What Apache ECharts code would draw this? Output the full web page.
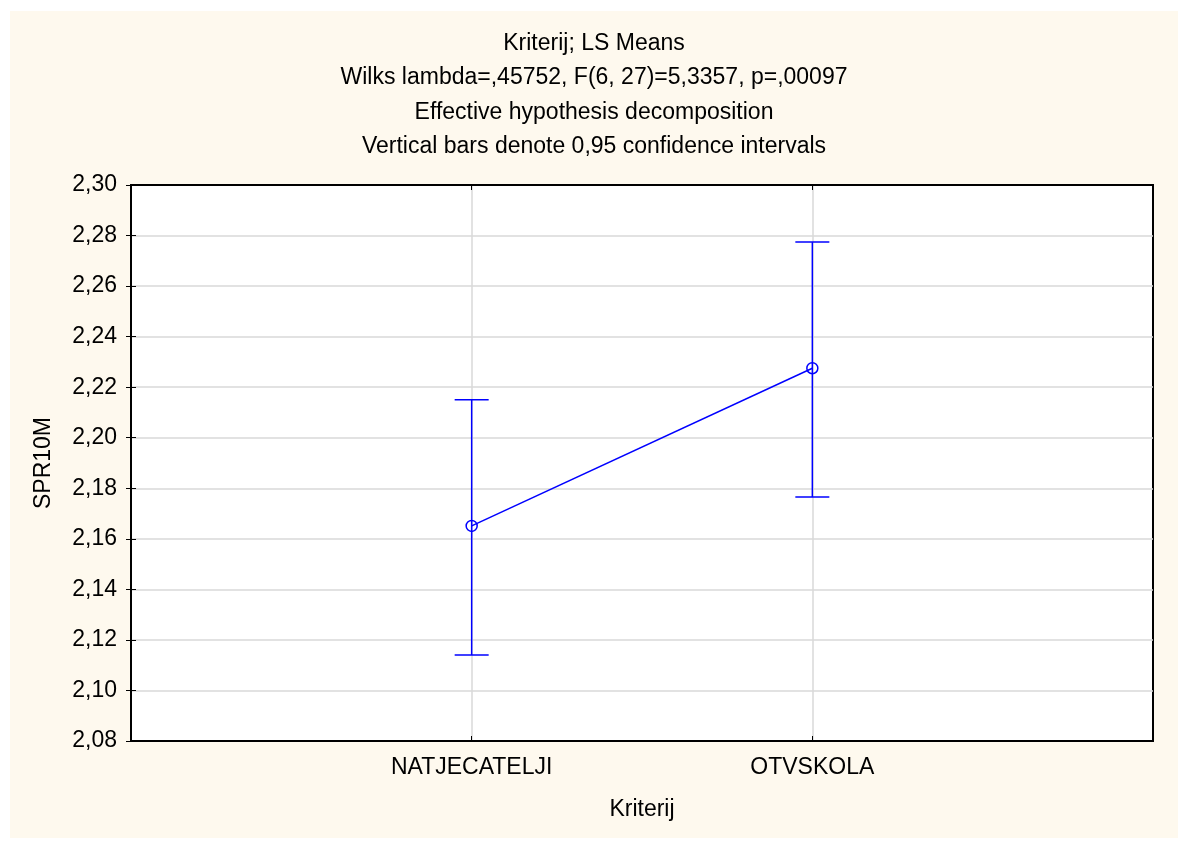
<!DOCTYPE html>
<html>
<head>
<meta charset="utf-8">
<script src="https://cdn.jsdelivr.net/npm/echarts@6/dist/echarts.min.js"></script>
<style>
  html, body { margin: 0; padding: 0; background: #ffffff; }
  #wrap { position: absolute; left: 0; top: 0; width: 1185px; height: 841px; background: #ffffff; }
  #chart { position: absolute; left: 10px; top: 11px; width: 1168px; height: 827px; background: #fef9ee; }
</style>
</head>
<body>
<div id="wrap"><div id="chart"></div></div>
<script>
// Groups on the x axis
const categories = ['NATJECATELJI', 'OTVSKOLA'];
// LS means of SPR10M per group
const means = [2.1651, 2.2275];
// 0,95 confidence limits
const lower = [2.1140, 2.1765];
const upper = [2.2150, 2.2774];
// Y tick range
const yMin = 2.08, yMax = 2.30, yStep = 0.02;

const titleLines = [
  'Kriterij; LS Means',
  'Wilks lambda=,45752, F(6, 27)=5,3357, p=,00097',
  'Effective hypothesis decomposition',
  'Vertical bars denote 0,95 confidence intervals'
];

const font = 'Liberation Sans, Arial, sans-serif';
const fs = 23;
const blue = '#0000ff';

const meanPoints = means.map((m, i) => [i + 1, m]);
const barData = categories.map((c, i) => [i + 1, lower[i], upper[i]]);

const chart = echarts.init(document.getElementById('chart'), null, { renderer: 'canvas' });

const fmtY = v => v.toFixed(2).replace('.', ',');
const fmtX = v => {
  const i = Math.round(v) - 1;
  return (Math.abs(v - Math.round(v)) < 1e-6 && categories[i]) ? categories[i] : '';
};

const gridLine = { show: true, showMinLine: false, showMaxLine: false, lineStyle: { color: '#d8d8d8', width: 1.5 } };
const frameLine = { show: true, lineStyle: { color: '#000', width: 2 } };
const innerTick = { show: true, inside: true, length: 5, lineStyle: { color: '#000', width: 1 } };

chart.setOption({
  animation: false,
  backgroundColor: '#fef9ee',
  textStyle: { fontFamily: font },
  title: {
    text: titleLines.join('\n'),
    left: 'center',
    top: 10,
    textStyle: { fontFamily: font, fontSize: fs, fontWeight: 'normal', color: '#000', lineHeight: 34.5 }
  },
  grid: {
    left: 121, top: 174, right: 25, bottom: 97,
    show: true, backgroundColor: '#ffffff', borderColor: '#000', borderWidth: 2,
    containLabel: false
  },
  xAxis: [{
    type: 'value', min: 0, max: 3, interval: 1,
    name: 'Kriterij', nameLocation: 'middle', nameGap: 57,
    nameTextStyle: { fontFamily: font, fontSize: fs, color: '#000' },
    axisLine: frameLine,
    axisTick: innerTick,
    axisLabel: { formatter: fmtX, fontFamily: font, fontSize: fs, color: '#000', margin: 15 },
    splitLine: gridLine
  }, {
    type: 'value', min: 0, max: 3, interval: 1, position: 'top',
    axisLine: frameLine,
    axisTick: innerTick,
    axisLabel: { show: false },
    splitLine: { show: false }
  }],
  yAxis: [{
    type: 'value', min: yMin, max: yMax, interval: yStep,
    name: 'SPR10M', nameLocation: 'middle', nameGap: 76, nameRotate: 90,
    nameTextStyle: { fontFamily: font, fontSize: fs, color: '#000' },
    axisLine: frameLine,
    axisTick: innerTick,
    axisLabel: { formatter: fmtY, fontFamily: font, fontSize: fs, color: '#000', margin: 14 },
    splitLine: gridLine
  }, {
    type: 'value', min: yMin, max: yMax, interval: yStep, position: 'right',
    axisLine: frameLine,
    axisTick: innerTick,
    axisLabel: { show: false },
    splitLine: { show: false }
  }],
  series: [{
    type: 'custom',
    xAxisIndex: 0, yAxisIndex: 0,
    data: barData,
    renderItem: function (params, api) {
      const x = api.value(0);
      const lo = api.coord([x, api.value(1)]);
      const hi = api.coord([x, api.value(2)]);
      const half = 17;
      const style = { stroke: blue, lineWidth: 1.5, fill: null };
      return {
        type: 'group',
        children: [
          { type: 'line', shape: { x1: lo[0], y1: lo[1], x2: hi[0], y2: hi[1] }, style: style },
          { type: 'line', shape: { x1: hi[0] - half, y1: hi[1], x2: hi[0] + half, y2: hi[1] }, style: style },
          { type: 'line', shape: { x1: lo[0] - half, y1: lo[1], x2: lo[0] + half, y2: lo[1] }, style: style }
        ]
      };
    },
    z: 3
  }, {
    type: 'line',
    xAxisIndex: 0, yAxisIndex: 0,
    data: meanPoints,
    symbol: 'circle', symbolSize: 11,
    itemStyle: { color: 'rgba(0,0,0,0)', borderColor: blue, borderWidth: 1.5 },
    lineStyle: { color: blue, width: 1.5 },
    z: 4
  }]
});
</script>
</body>
</html>
